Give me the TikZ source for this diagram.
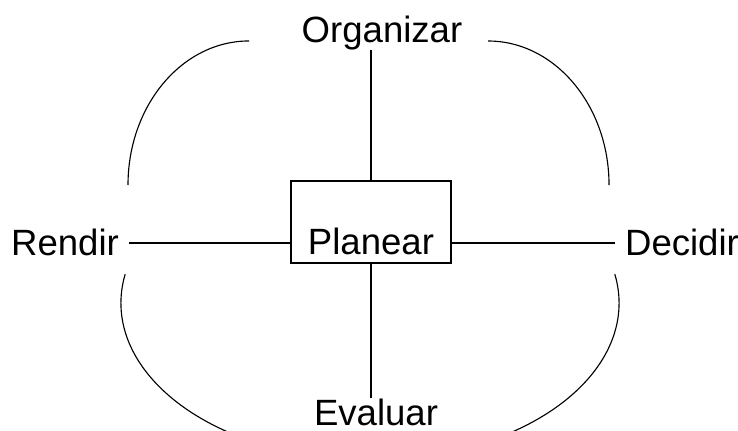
\documentclass[tikz,border=0pt]{standalone}
\usepackage{fontspec}
\setmainfont{Liberation Sans}
\usetikzlibrary{calc}
\tikzset{
  cyclelabel/.style={inner xsep=7pt, inner ysep=0pt, anchor=base, font=\fontsize{26}{31}\selectfont},
  centerbox/.style={draw, line width=1.1pt, minimum width=4cm, text height=1.825cm, text depth=0.225cm, inner ysep=0pt, anchor=base, font=\fontsize{26}{31}\selectfont},
  spoke/.style={line width=1.1pt},
  loopline/.style={line width=0.8pt}
}
\begin{document}
\begin{tikzpicture}[x=0.025cm, y=0.025cm]
\useasboundingbox (0,0) rectangle (738,430);
\clip (0,0) rectangle (738,430);
\node[centerbox] (planear) at (371,176) {Planear};
\node[cyclelabel] (organizar) at (382,388) {Organizar};
\node[cyclelabel] (evaluar) at (376,5) {Evaluar};
\node[cyclelabel] (rendir) at (65,175) {Rendir};
\node[cyclelabel] (decidir) at (682,175) {Decidir};
\draw[spoke] (planear.north) -- (planear.north |- organizar.south);
\draw[spoke] (planear.south) -- (planear.south |- evaluar.north);
\draw[spoke] (rendir.east |- 0,187) -- (planear.west |- 0,187);
\draw[spoke] (planear.east |- 0,187) -- (decidir.west |- 0,187);
% arcs round the cycle
\draw[loopline] (128,245) arc[start angle=180, end angle=90, x radius=3.025cm, y radius=3.6cm];
\draw[loopline] (488,389) arc[start angle=90, end angle=0, x radius=3.025cm, y radius=3.6cm];
\draw[loopline] (370,127) ++(169.4:6.225cm and 3.925cm) arc[start angle=169.4, end angle=250, x radius=6.225cm, y radius=3.925cm];
\draw[loopline] (370,127) ++(10.6:6.225cm and 3.925cm) arc[start angle=10.6, end angle=-70, x radius=6.225cm, y radius=3.925cm];
\end{tikzpicture}
\end{document}
